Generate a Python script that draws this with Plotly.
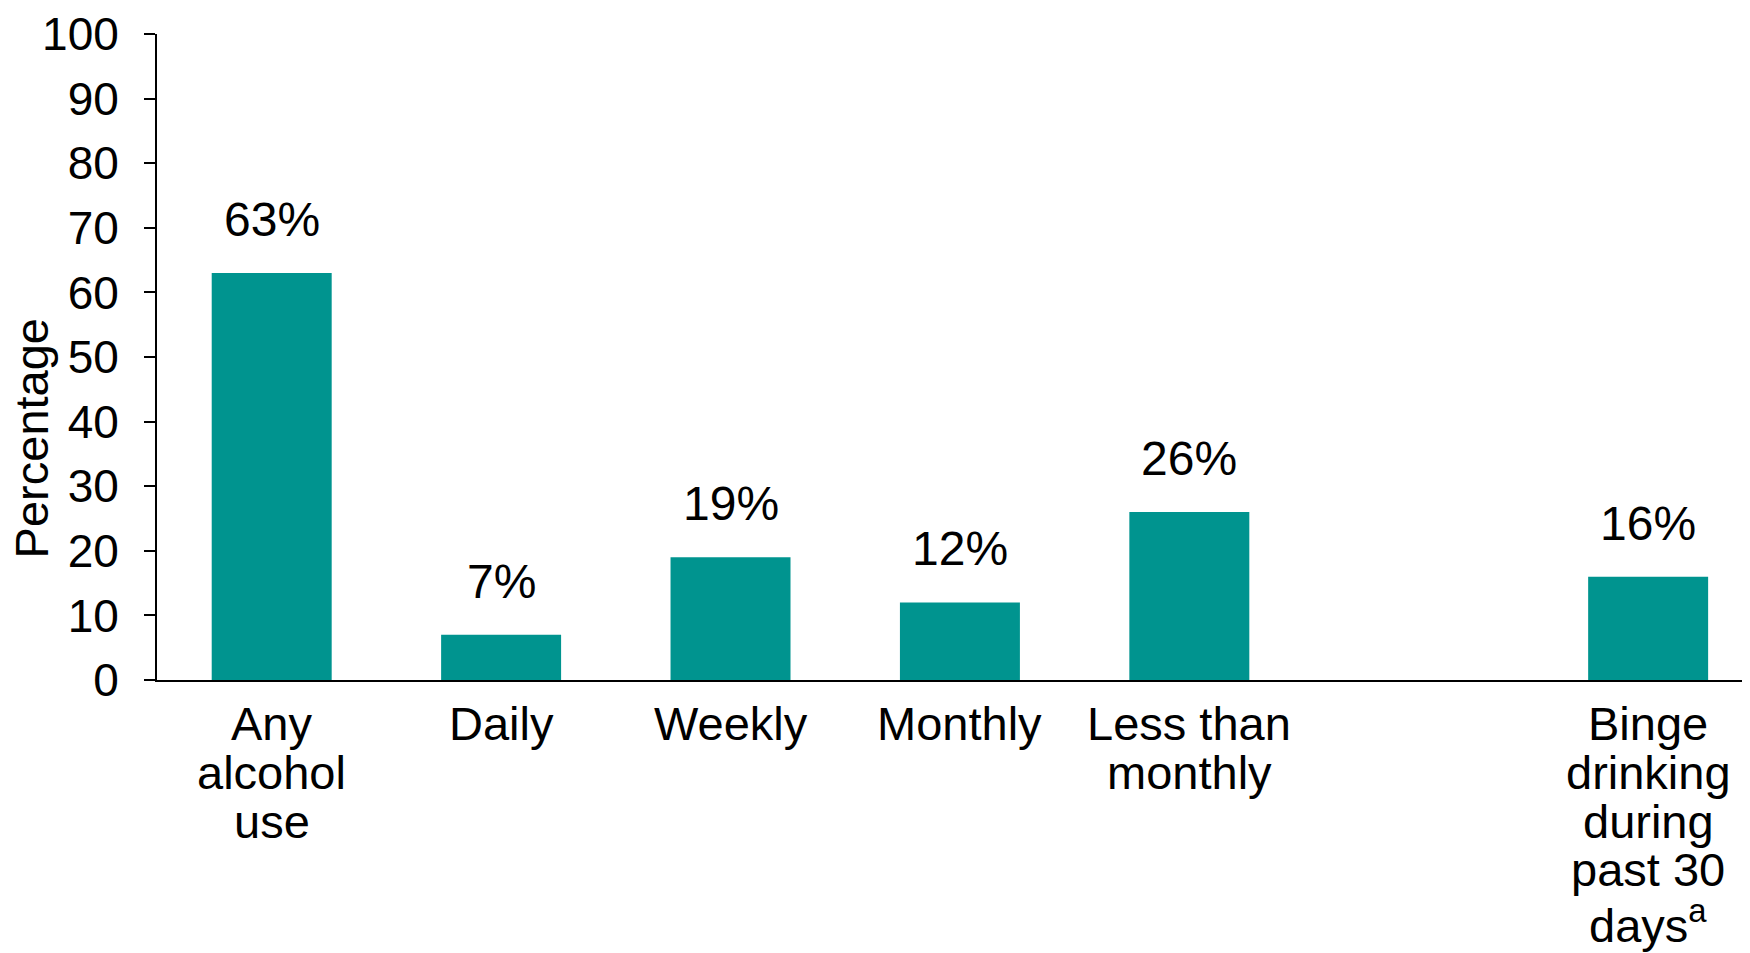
import plotly.graph_objects as go

categories = ["Any alcohol use", "Daily", "Weekly", "Monthly", "Less than monthly", "", "Binge drinking during past 30 days"]
values = [63, 7, 19, 12, 26, None, 16]
value_labels = ["63%", "7%", "19%", "12%", "26%", "", "16%"]
category_lines = [
    ["Any", "alcohol", "use"],
    ["Daily"],
    ["Weekly"],
    ["Monthly"],
    ["Less than", "monthly"],
    [],
    ["Binge", "drinking", "during", "past 30", "days<sup>a</sup>"],
]
y_ticks = list(range(0, 101, 10))
y_title = "Percentage"

FONT = "Liberation Sans, Arial, sans-serif"
BAR = "#00948F"

fig = go.Figure()
fig.add_trace(go.Bar(x=categories, y=values, marker=dict(color=BAR, line=dict(width=0)),
                     hoverinfo="skip"))

annotations = []
# value labels above bars
for c, v, t in zip(categories, values, value_labels):
    if v is None:
        continue
    annotations.append(dict(x=c, y=v, xref="x", yref="y", text=t, showarrow=False,
                            xanchor="center", yanchor="bottom", yshift=25,
                            font=dict(family=FONT, size=48, color="black")))
# category labels (tight line spacing)
for c, lines in zip(categories, category_lines):
    for j, line in enumerate(lines):
        annotations.append(dict(x=c, y=0, xref="x", yref="paper", text=line, showarrow=False,
                                xanchor="center", yanchor="top", yshift=-15 - 48.8 * j,
                                font=dict(family=FONT, size=47, color="black")))
# y-axis title
annotations.append(dict(x=0, y=0.374, xref="paper", yref="paper", text=y_title, showarrow=False,
                        textangle=-90, xanchor="center", yanchor="middle", xshift=-126,
                        font=dict(family=FONT, size=47, color="black")))

fig.update_layout(
    width=1750, height=953,
    margin=dict(l=149, r=8, t=26, b=281, pad=0, autoexpand=False),
    paper_bgcolor="white", plot_bgcolor="white",
    showlegend=False,
    bargap=0.477,
    annotations=annotations,
    font=dict(family=FONT, color="black"),
)
fig.update_xaxes(type="category", range=[-0.5, 6.444], showline=True, linecolor="black", linewidth=2,
                 showticklabels=False, ticks="", showgrid=False, zeroline=False, fixedrange=True,
                 automargin=False)
fig.update_yaxes(range=[0, 100], tickvals=y_ticks, showline=True, linecolor="black", linewidth=2,
                 ticks="outside", ticklen=11, tickwidth=2, tickcolor="black",
                 tickfont=dict(family=FONT, size=46, color="black"), ticklabelstandoff=16,
                 showgrid=False, zeroline=False, fixedrange=True, automargin=False)

fig.write_html("out.html")
